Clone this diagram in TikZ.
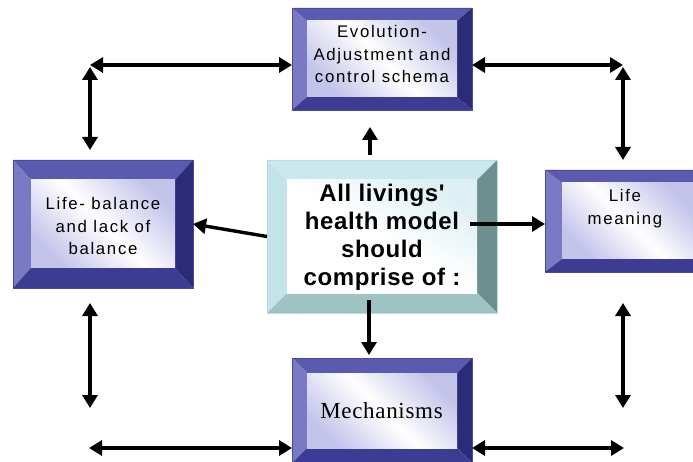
\documentclass[tikz,border=0pt]{standalone}
\usepackage{fontspec}
\setmainfont{Liberation Sans}
\newfontfamily\boxfont[LetterSpace=10]{Liberation Sans}
\newfontfamily\centfont[LetterSpace=2.5]{Liberation Sans}
\newfontfamily\serifface[LetterSpace=3]{Liberation Serif}
\usetikzlibrary{arrows.meta,calc}
\definecolor{btop}{HTML}{5A5AAE}
\definecolor{bleft}{HTML}{7A7AC4}
\definecolor{bright}{HTML}{2B2B78}
\definecolor{bbot}{HTML}{3C3C94}
\definecolor{bline}{HTML}{4848A8}
\definecolor{bin}{HTML}{C4C4EA}
\definecolor{ctop}{HTML}{CBE8EC}
\definecolor{cleft}{HTML}{C2E3E7}
\definecolor{cright}{HTML}{6E8F8F}
\definecolor{cbot}{HTML}{9DC3C5}
\definecolor{cline}{HTML}{B4E0E4}
\definecolor{cin}{HTML}{DCF0F3}
\newcommand\bevelbox[9]{%
  \fill[#4] (#1.north west) -- (#1.north east) -- ($(#1.north east)+(-#2,#3)$) -- ($(#1.north west)+(#2,#3)$) -- cycle;
  \fill[#5] (#1.north west) -- ($(#1.north west)+(#2,#3)$) -- ($(#1.south west)+(#2,-#3)$) -- (#1.south west) -- cycle;
  \fill[#6] (#1.north east) -- ($(#1.north east)+(-#2,#3)$) -- ($(#1.south east)+(-#2,-#3)$) -- (#1.south east) -- cycle;
  \fill[#7] (#1.south west) -- ($(#1.south west)+(#2,-#3)$) -- ($(#1.south east)+(-#2,-#3)$) -- (#1.south east) -- cycle;
  \shade[#8] ($(#1.north west)+(#2,#3)$) rectangle ($(#1.south east)+(-#2,-#3)$);
  \draw[#9, line width=0.8pt] (#1.north west) rectangle (#1.south east);
}
\tikzset{
  boxshape/.style={rectangle, inner sep=0pt, outer sep=0pt},
  blueshade/.style={top color=bin, bottom color=bin, middle color=white, shading angle=-45},
  cyanshade/.style={top color=cin, bottom color=white, middle color=white, shading angle=-30},
  btext/.style={font=\boxfont\fontsize{16.8}{22.8}\selectfont, align=center, inner sep=0pt},
  ctext/.style={font=\centfont\bfseries\fontsize{24}{27.7}\selectfont, align=center, inner sep=0pt},
  stext/.style={font=\serifface\fontsize{23}{27}\selectfont, inner sep=0pt},
  arr/.style={line width=3.4pt, -{Triangle[length=13pt,width=15pt]}},
  dbl/.style={line width=3.4pt, {Triangle[length=13pt,width=15pt]}-{Triangle[length=13pt,width=15pt]}}
}
\begin{document}
\begin{tikzpicture}[x=1pt,y=-1pt]
\useasboundingbox (0,0) rectangle (693,462);
\clip (0,0) rectangle (693,462);
\fill[white] (0,0) rectangle (693,462);
% boxes
\node[boxshape, minimum width=180pt, minimum height=102pt] (top) at (382,59) {};
\node[boxshape, minimum width=180pt, minimum height=128pt] (lb) at (103,224) {};
\node[boxshape, minimum width=230pt, minimum height=153pt] (c) at (382,236.5) {};
\node[boxshape, minimum width=165pt, minimum height=102pt] (rb) at (627.5,221) {};
\node[boxshape, minimum width=180pt, minimum height=105pt] (bot) at (382,410.5) {};
\bevelbox{top}{15}{13}{btop}{bleft}{bright}{bbot}{blueshade}{bline}
\bevelbox{lb}{18}{20}{btop}{bleft}{bright}{bbot}{blueshade}{bline}
\bevelbox{c}{20}{20}{ctop}{cleft}{cright}{cbot}{cyanshade}{cline}
\bevelbox{rb}{17}{13}{btop}{bleft}{bright}{bbot}{blueshade}{bline}
\bevelbox{bot}{15}{15}{btop}{bleft}{bright}{bbot}{blueshade}{bline}
% texts
\node[btext] (topt) at (382,54) {Evolution-\\Adjustment and\\control schema};
\node[btext] (lbt) at (103,226) {Life- balance\\and lack of\\balance};
\node[btext] (rbt) at (625,208.5) {Life\\meaning};
\node[ctext] (ct) at (382,237.3) {All livings'\\health model\\should\\comprise of :};
\node[stext] (bott) at (381.5,410.5) {Mechanisms};
% corner coordinates
\coordinate (tl) at (90,65);
\coordinate (tl2) at (90,67);
\coordinate (tlb) at (90,150);
\coordinate (tr) at (623,65);
\coordinate (tr2) at (623,67);
\coordinate (trb) at (623,160);
\coordinate (blt) at (90,303);
\coordinate (blb) at (90,408);
\coordinate (bl) at (89,448);
\coordinate (brt) at (623,303);
\coordinate (brb) at (623,408);
\coordinate (br) at (624,448);
\coordinate (rs) at (470,224);
\coordinate (us) at (370,155);
\coordinate (ue) at (370,127);
\coordinate (ds) at (369,300);
% connectors
\draw[dbl] (tl) -- (tl -| top.west);
\draw[dbl] (tl2) -- (tlb);
\draw[dbl] (top.east |- tr) -- (tr);
\draw[dbl] (tr2) -- (trb);
\draw[dbl] (blt) -- (blb);
\draw[dbl] (bl) -- (bl -| bot.west);
\draw[dbl] (brt) -- (brb);
\draw[dbl] (bot.east |- br) -- (br);
\draw[arr] (c.west) -- (lb.east);
\draw[arr] (rs) -- (rs -| rb.west);
\draw[arr] (us) -- (ue);
\draw[arr] (ds) -- ([yshift=3pt]ds |- bot.north);
\end{tikzpicture}
\end{document}
